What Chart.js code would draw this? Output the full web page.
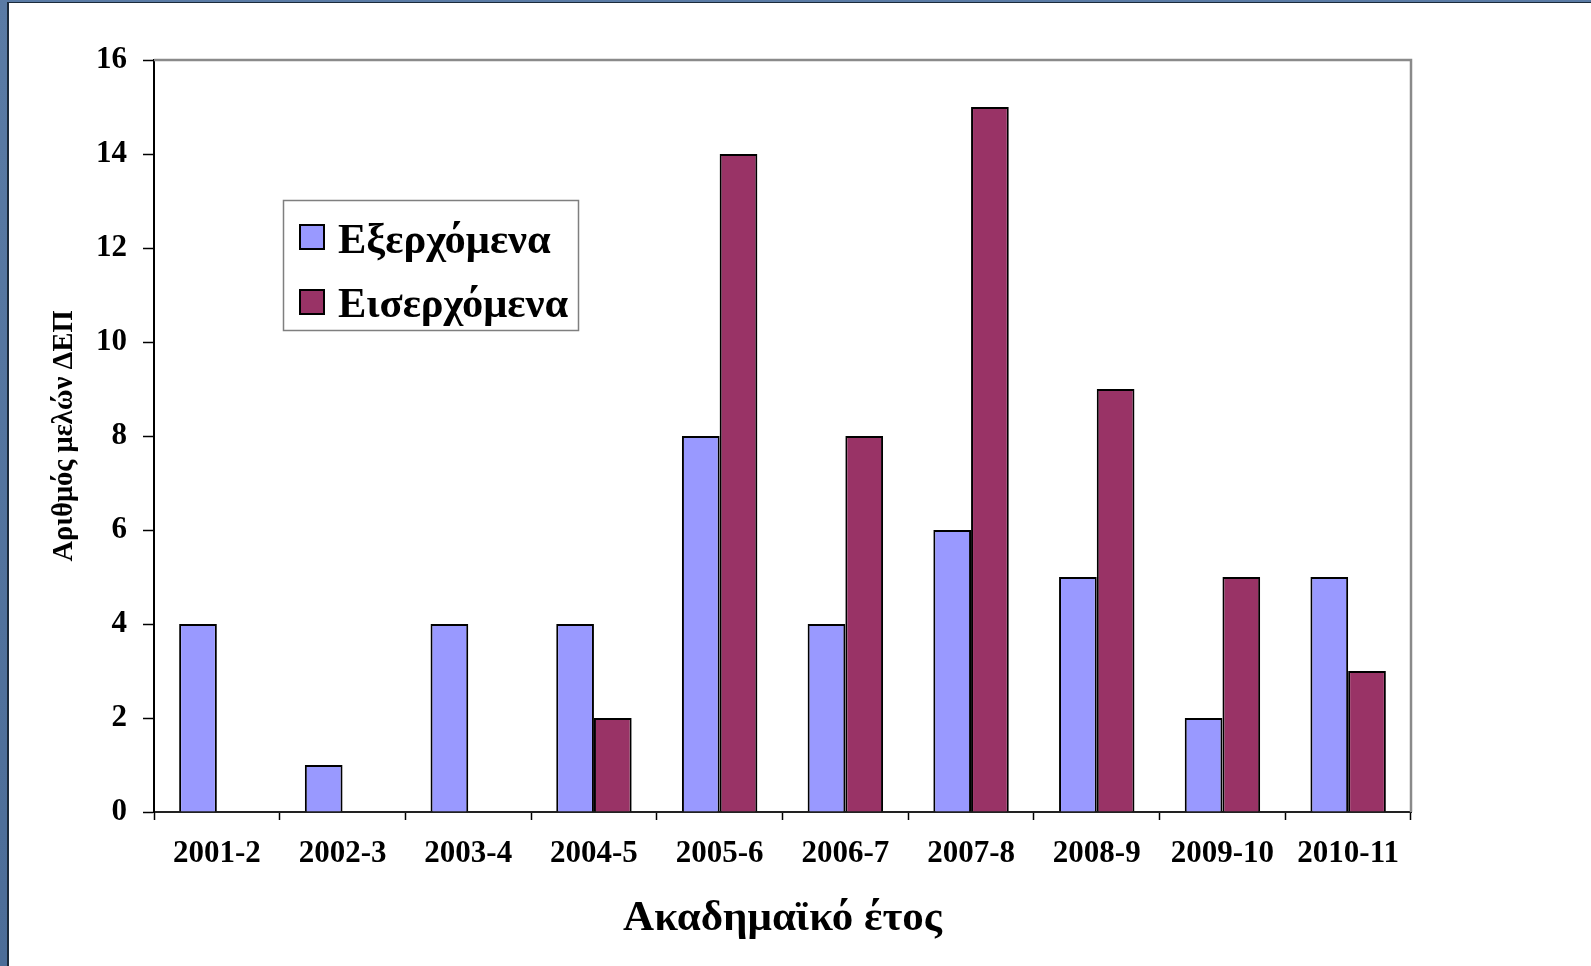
<!DOCTYPE html>
<html>
<head>
<meta charset="utf-8">
<script src="https://cdn.jsdelivr.net/npm/chart.js@4"></script>
<style>
  html, body { margin: 0; padding: 0; width: 1591px; height: 966px; overflow: hidden; }
  body { background: linear-gradient(180deg, #5a7ba5, #4c6d98); position: relative; }
  #frame { position: absolute; left: 7px; top: 2px; width: 1600px; height: 980px; background: #fff;
           border-left: 2px solid #1b2a3b; border-top: 1px solid #1b2a3b; }
  #c { position: absolute; left: 0; top: 0; }
</style>
</head>
<body>
<div id="frame"></div>
<canvas id="c" width="1591" height="966"></canvas>
<script>
const categories = ["2001-2", "2002-3", "2003-4", "2004-5", "2005-6", "2006-7", "2007-8", "2008-9", "2009-10", "2010-11"];
const outgoing = [4, 1, 4, 4, 8, 4, 6, 5, 2, 5];
const incoming = [0, 0, 0, 2, 14, 8, 15, 9, 5, 3];
const seriesNames = ["Εξερχόμενα", "Εισερχόμενα"];
const yTitle = "Αριθμός μελών ΔΕΠ";
const xTitle = "Ακαδημαϊκό έτος";

const SERIF = '"Liberation Serif", "Times New Roman", serif';

const frameBorder = {
  id: 'frameBorder',
  beforeDatasetsDraw(chart) {
    const {ctx, chartArea: a} = chart;
    ctx.save();
    ctx.strokeStyle = '#8a8a8a';
    ctx.lineWidth = 2.5;
    ctx.beginPath();
    ctx.moveTo(a.left, a.top);
    ctx.lineTo(a.right, a.top);
    ctx.lineTo(a.right, a.bottom);
    ctx.stroke();
    ctx.restore();
  },
  afterDraw(chart) {
    const {ctx} = chart;
    ctx.save();
    ctx.fillStyle = '#fff';
    ctx.fillRect(283, 200, 295, 130);
    ctx.strokeStyle = '#7f7f7f';
    ctx.lineWidth = 1.5;
    ctx.strokeRect(283.5, 200.5, 295, 130);
    const rows = [{y: 225, base: 253}, {y: 290, base: 317}];
    chart.data.datasets.forEach((ds, i) => {
      const r = rows[i];
      ctx.fillStyle = ds.backgroundColor;
      ctx.fillRect(300, r.y, 24, 24);
      ctx.strokeStyle = '#000';
      ctx.lineWidth = 2;
      ctx.strokeRect(300, r.y, 24, 24);
      ctx.fillStyle = '#000';
      ctx.font = 'bold 42.5px ' + SERIF;
      ctx.textBaseline = 'alphabetic';
      ctx.textAlign = 'left';
      ctx.fillText(ds.label, 338, r.base);
    });
    ctx.restore();
  }
};

new Chart(document.getElementById('c'), {
  type: 'bar',
  data: {
    labels: categories,
    datasets: [
      { label: seriesNames[0], data: outgoing, backgroundColor: '#9999FF', borderColor: '#000', borderWidth: 2 },
      { label: seriesNames[1], data: incoming, backgroundColor: '#993366', borderColor: '#000', borderWidth: 2 }
    ]
  },
  options: {
    responsive: false,
    animation: false,
    devicePixelRatio: 1,
    layout: { padding: { left: 40, top: 60, right: 180, bottom: 0 } },
    datasets: { bar: { categoryPercentage: 0.6, barPercentage: 1.0 } },
    plugins: { legend: { display: false }, tooltip: { enabled: false } },
    scales: {
      x: {
        grid: { drawOnChartArea: false, drawTicks: true, tickLength: 8, tickColor: '#000', tickWidth: 1.5, offset: true },
        border: { display: true, color: '#222', width: 2 },
        ticks: { color: '#000', font: { family: SERIF, weight: 'bold', size: 31 }, padding: 15, maxRotation: 0, autoSkip: false },
        title: { display: true, text: xTitle, color: '#000', font: { family: SERIF, weight: 'bold', size: 43 }, padding: { top: 0, bottom: 21 } },
        afterFit(s) { s.height = 154; }
      },
      y: {
        min: 0, max: 16,
        grid: { drawOnChartArea: false, drawTicks: true, tickLength: 11, tickColor: '#000', tickWidth: 1.5 },
        border: { display: true, color: '#000', width: 2 },
        ticks: { stepSize: 2, color: '#000', font: { family: SERIF, weight: 'bold', size: 31 }, padding: 16 },
        title: { display: true, text: yTitle, color: '#000', font: { family: SERIF, weight: 'bold', size: 28.5 }, padding: { top: 8, bottom: 0 } },
        afterFit(s) { s.width = 114; }
      }
    }
  },
  plugins: [frameBorder]
});
</script>
</body>
</html>
